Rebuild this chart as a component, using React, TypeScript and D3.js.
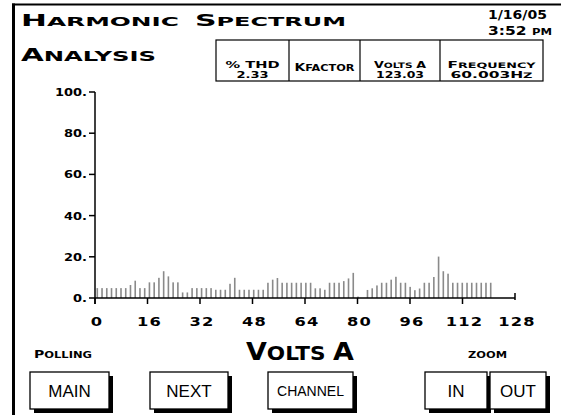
import React from 'react';
import * as d3 from 'd3';

const W = 565;
const H = 415;

// Harmonic magnitudes (% of fundamental), read left to right from the picture
const harmonicValues = [
  4.8, 4.8, 4.8, 4.8, 4.8, 4.8, 4.8, 6.3, 8.4, 4.8, 4.8, 7.6, 7.6, 9.8, 13, 10.5,
  7.6, 7.6, 2.7, 2.7, 4.8, 4.8, 4.8, 4.8, 4.8, 4.0, 4.0, 4.0, 6.9, 9.8, 4.0, 4.0,
  4.0, 4.0, 4.0, 4.0, 7.4, 8.9, 9.7, 7.4, 7.4, 7.4, 7.4, 7.4, 7.4, 7.4, 4.7, 4.7,
  4.0, 7.4, 7.4, 7.4, 8.2, 9.5, 12.2, 0.7, 0, 3.9, 4.7, 6.1, 7.4, 7.4, 8.9, 10.3,
  7.4, 7.4, 5.4, 3.8, 4.6, 7.4, 7.4, 10.2, 20.1, 13, 11.8, 7.4, 7.4, 7.4, 7.4, 7.4,
  7.4, 7.4, 7.4, 7.4,
];
const barRangeStart = 0.7; // axis units of first bar
const barRangeEnd = 120.6; // axis units of last bar

const xTicks = [0, 16, 32, 48, 64, 80, 96, 112, 128];
const yTicks = [0, 20, 40, 60, 80, 100];

const EXT = "'DejaVu Sans', sans-serif";
const PLAIN = "'Liberation Sans', Arial, sans-serif";

type Part = [string, number];

function SC({ x, y, parts, width, anchor = 'start', family = EXT, weight = 700 }: {
  x: number; y: number; parts: Part[]; width?: number; anchor?: string; family?: string; weight?: number;
}) {
  return (
    <text
      x={x}
      y={y}
      textAnchor={anchor as any}
      textLength={width}
      lengthAdjust={width ? 'spacingAndGlyphs' : undefined}
      fontFamily={family}
      fontWeight={weight}
      fill="#000"
    >
      {parts.map(([t, s], i) => (
        <tspan key={i} fontSize={s} style={{ whiteSpace: 'pre' }}>{t}</tspan>
      ))}
    </text>
  );
}

function Button({ x, y, w, h, label, size }: { x: number; y: number; w: number; h: number; label: string; size: number }) {
  return (
    <g>
      <rect x={x + 4} y={y + 4} width={w} height={h} fill="#000" />
      <rect x={x} y={y} width={w} height={h} fill="#fff" stroke="#000" strokeWidth={1.3} />
      <text x={x + w / 2} y={y + h / 2 + size * 0.36} textAnchor="middle" fontFamily={PLAIN} fontSize={size} fontWeight={500} fill="#000">
        {label}
      </text>
    </g>
  );
}

export default function App() {
  const x = d3.scaleLinear().domain([0, 128]).range([95, 515]);
  const y = d3.scaleLinear().domain([0, 100]).range([298, 92]);
  const barX = d3.scaleLinear().domain([0, harmonicValues.length - 1]).range([x(barRangeStart), x(barRangeEnd)]);

  const axisY = y(0);

  // info table
  const tTop = 40, tBot = 81;
  const cols = [216, 289, 360, 440, 543];
  const cx = (i: number) => (cols[i] + cols[i + 1]) / 2;

  return (
    <svg width={W} height={H} style={{ position: 'absolute', left: 0, top: 0, background: '#fff' }}>
      <rect x={0} y={0} width={W} height={H} fill="#fff" />
      {/* frame */}
      <line x1={13.5} y1={3.5} x2={13.5} y2={H} stroke="#000" strokeWidth={3} />
      <line x1={12} y1={4.5} x2={561} y2={4.5} stroke="#000" strokeWidth={2} />

      {/* title */}
      <SC x={21} y={26} parts={[['H', 15], ['ARMONIC', 12]]} width={158} />
      <SC x={195} y={26} parts={[['S', 15], ['PECTRUM', 12]]} width={151} />
      <SC x={21} y={61} parts={[['A', 17], ['NALYSIS', 14]]} width={135} />

      {/* date/time */}
      <SC x={488} y={19} parts={[['1/16/05', 12]]} width={59} />
      <SC x={488} y={35} parts={[['3:52 ', 12], ['PM', 9]]} width={64} />

      {/* info table */}
      <rect x={cols[0]} y={tTop} width={cols[4] - cols[0]} height={tBot - tTop} fill="none" stroke="#000" strokeWidth={1.2} />
      {cols.slice(1, 4).map((c) => (
        <line key={c} x1={c} y1={tTop} x2={c} y2={tBot} stroke="#000" strokeWidth={1.2} />
      ))}
      <SC x={cx(0)} y={68} anchor="middle" parts={[['% THD', 8]]} width={54} />
      <SC x={cx(0)} y={78} anchor="middle" parts={[['2.33', 9]]} width={32} />
      <SC x={cx(1)} y={71} anchor="middle" parts={[['K', 11], ['FACTOR', 9]]} width={60} weight={700} />
      <SC x={cx(2)} y={68} anchor="middle" parts={[['V', 9], ['OLTS ', 7.5], ['A', 9]]} width={52} />
      <SC x={cx(2)} y={78} anchor="middle" parts={[['123.03', 9]]} width={48} />
      <SC x={cx(3)} y={68} anchor="middle" parts={[['F', 9], ['REQUENCY', 7.5]]} width={88} />
      <SC x={cx(3)} y={78} anchor="middle" parts={[['60.003', 9], ['H', 9], ['Z', 7.5]]} width={82} />

      {/* bars */}
      {harmonicValues.map((v, i) =>
        v > 0 ? (
          <rect key={i} x={barX(i) - 0.8} y={y(v)} width={1.6} height={axisY - y(v)} fill="#8a8a8a" />
        ) : null
      )}

      {/* y axis */}
      <line x1={x(0)} y1={y(100)} x2={x(0)} y2={axisY + 6} stroke="#000" strokeWidth={1.5} />
      {yTicks.map((t) => (
        <g key={t}>
          <line x1={x(0) - 6} y1={y(t)} x2={x(0)} y2={y(t)} stroke="#000" strokeWidth={1.5} />
          <text
            transform={`translate(${x(0) - 8},${y(t) + 4}) scale(1.3,1)`}
            textAnchor="end"
            fontFamily={EXT}
            fontWeight={700}
            fontSize={10}
            fill="#000"
          >
            {`${t}.`}
          </text>
        </g>
      ))}

      {/* x axis */}
      <line x1={x(0)} y1={axisY} x2={x(128)} y2={axisY} stroke="#000" strokeWidth={1.5} />
      {xTicks.map((t) => (
        <g key={t}>
          {t === 128 ? (
            <line x1={x(t)} y1={axisY - 5} x2={x(t)} y2={axisY + 2} stroke="#000" strokeWidth={1.5} />
          ) : (
            <line x1={x(t)} y1={axisY} x2={x(t)} y2={axisY + 6} stroke="#000" strokeWidth={1.5} />
          )}
          <text
            transform={`translate(${x(t) + 2},${axisY + 28}) scale(1.25,1)`}
            textAnchor="middle"
            fontFamily={EXT}
            fontWeight={700}
            fontSize={13}
            letterSpacing={1}
            fill="#000"
          >
            {String(t)}
          </text>
        </g>
      ))}

      {/* bottom labels */}
      <SC x={34} y={358} parts={[['P', 11], ['OLLING', 9]]} width={58} />
      <SC x={246} y={360} parts={[['V', 25], ['OLTS ', 20], ['A', 25]]} width={108} />
      <SC x={468} y={358} parts={[['ZOOM', 9]]} width={39} />

      {/* buttons */}
      <Button x={30} y={372} w={79} h={37} label="MAIN" size={17} />
      <Button x={150} y={372} w={78} h={37} label="NEXT" size={17} />
      <Button x={268} y={372} w={85} h={37} label="CHANNEL" size={14} />
      <Button x={425} y={372} w={62} h={37} label="IN" size={17} />
      <Button x={490} y={372} w={56} h={37} label="OUT" size={17} />
    </svg>
  );
}
